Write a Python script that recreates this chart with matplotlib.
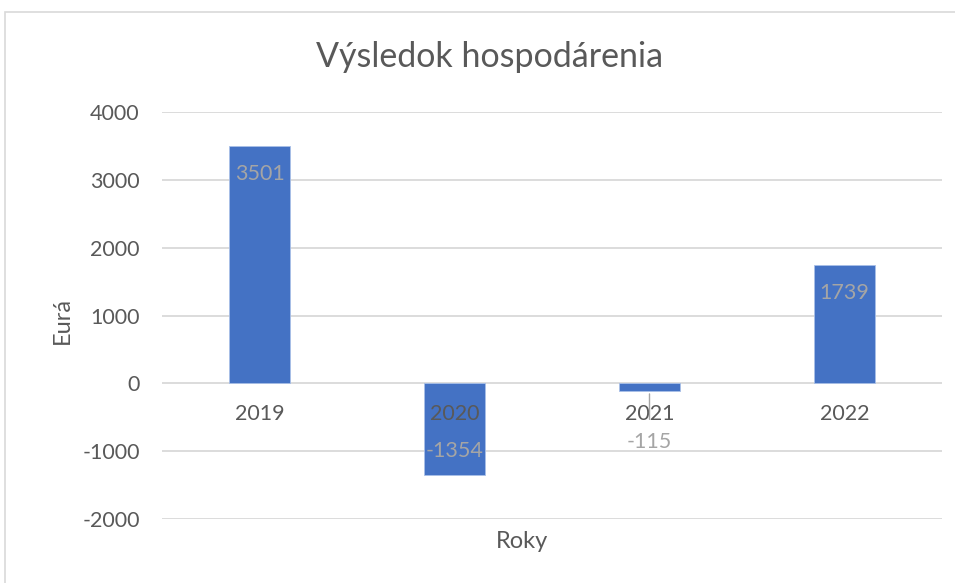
import numpy as np
import matplotlib.pyplot as plt
from matplotlib.patches import Rectangle

# Data
roky = ['2019', '2020', '2021', '2022']
vysledok = [3501, -1354, -115, 1739]
y_ticks = [-2000, -1000, 0, 1000, 2000, 3000, 4000]

plt.rcParams['font.family'] = ['Lato', 'DejaVu Sans']
plt.rcParams['axes.unicode_minus'] = False

fig = plt.figure(figsize=(9.55, 5.83), dpi=100)
ax = fig.add_axes([162/955, 64/583, 780/955, 407/583])

# outer chart border (cropped screenshot look)
fig.patches.append(Rectangle((5/955, -0.1), 1.2, (583-12)/583 + 0.1, transform=fig.transFigure,
                             fill=False, edgecolor='#D9D9D9', linewidth=1.2))

x = np.arange(len(roky))
ax.bar(x, vysledok, width=0.31, color='#4472C4', edgecolor='#A9C0E8', linewidth=0.6, zorder=3)

ax.set_xlim(-0.5, len(roky) - 0.5)
ax.set_ylim(-2000, 4000)
ax.set_yticks(y_ticks)
ax.set_yticklabels([str(t) for t in y_ticks])
ax.set_xticks([])
ax.yaxis.grid(True, color='#D9D9D9', linewidth=1.3, zorder=0)
ax.tick_params(axis='y', length=0, pad=16, labelsize=15.5, labelcolor='#595959')
for s in ax.spines.values():
    s.set_visible(False)

fs = 15.5
# category labels next to zero line
for xi, r in zip(x, roky):
    ax.annotate(r, xy=(xi, 0), xytext=(0, -31), textcoords='offset pixels',
                ha='center', va='center', fontsize=fs, color='#595959', zorder=4)

# data labels (inside end)
gray = '#A5A5A5'
for xi, v in zip(x, vysledok):
    if abs(v) > 500:
        off = -28 if v > 0 else 24
        ax.annotate(str(v), xy=(xi, v), xytext=(0, off), textcoords='offset pixels',
                    ha='center', va='center', fontsize=fs, color=gray, zorder=4)
    else:
        # small bar: label moved down with a leader line
        ax.annotate(str(v), xy=(xi, v), xytext=(0, -51), textcoords='offset pixels',
                    ha='center', va='center', fontsize=fs, color=gray, zorder=4)
        ax.annotate('', xy=(xi, v), xytext=(0, -31), textcoords='offset pixels',
                    arrowprops=dict(arrowstyle='-', color=gray, lw=1.0), zorder=4)

fig.text(490/955, 1 - 57/583, 'Výsledok hospodárenia', ha='center', va='center',
         fontsize=24.5, color='#595959')
fig.text(62/955, 1 - 320/583, 'Eurá', ha='center', va='center', rotation=90,
         fontsize=17, color='#595959')
fig.text(522/955, 1 - 542/583, 'Roky', ha='center', va='center',
         fontsize=17, color='#595959')

fig.savefig('out.png', dpi=100, facecolor='white')
